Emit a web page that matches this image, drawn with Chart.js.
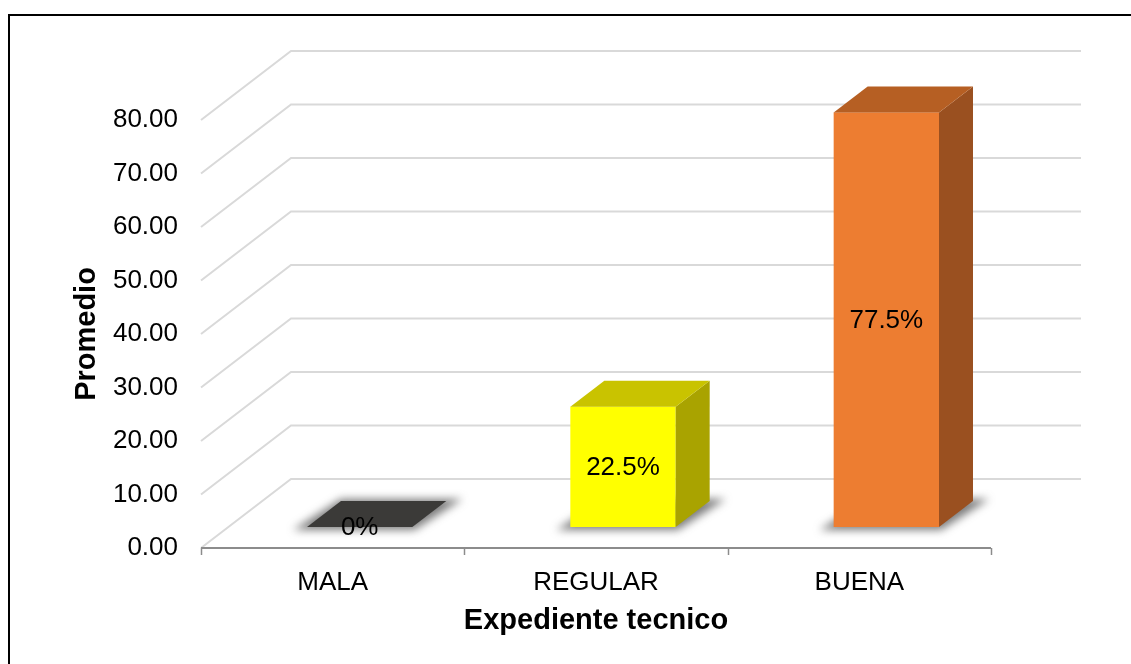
<!DOCTYPE html>
<html>
<head>
<meta charset="utf-8">
<script src="https://cdn.jsdelivr.net/npm/chart.js@4.4.1/dist/chart.umd.min.js"></script>
<style>
  html, body { margin: 0; padding: 0; background: #fff; }
  canvas { display: block; }
</style>
</head>
<body>
<canvas id="grafikResult" width="1131" height="664"></canvas>
<script>
var categorias = ['MALA', 'REGULAR', 'BUENA'];
var promedios = [0, 22.5, 77.5];
var etiquetas = ['0%', '22.5%', '77.5%'];
var yTicks = [0, 10, 20, 30, 40, 50, 60, 70, 80];

var colorFrente = ['#404040', '#ffff00', '#ed7d31'];
var colorTapa = ['#3b3a38', '#c9c300', '#b65f23'];
var colorLado = ['#2b2b2b', '#a9a300', '#9a5020'];

var FONT = "'Liberation Sans', Arial, sans-serif";

// profundidad de la pared (excel 3d)
var pared = { dx: 90, dy: 69 };
var barraIni = { dx: 27, dy: 21 };   // frente de la barra
var barraProf = { dx: 34, dy: 26 };  // fondo de la barra

var grafico3d = {
    id: 'grafico3d',
    beforeDraw: function(chart) {
        var ctx = chart.ctx;
        ctx.save();
        ctx.strokeStyle = '#000';
        ctx.lineWidth = 2;
        ctx.beginPath();
        ctx.moveTo(9, 664);
        ctx.lineTo(9, 15);
        ctx.lineTo(1131, 15);
        ctx.stroke();
        ctx.restore();
    },
    beforeDatasetsDraw: function(chart) {
        var ctx = chart.ctx;
        var a = chart.chartArea;
        var y = chart.scales.y;
        ctx.save();
        // lineas de la pared
        ctx.strokeStyle = '#d9d9d9';
        ctx.lineWidth = 2;
        y.ticks.forEach(function(t) {
            var py = y.getPixelForValue(t.value);
            ctx.beginPath();
            ctx.moveTo(a.left, py);
            ctx.lineTo(a.left + pared.dx, py - pared.dy);
            ctx.lineTo(a.right + pared.dx, py - pared.dy);
            ctx.stroke();
        });
        // eje horizontal
        ctx.strokeStyle = '#8c8c8c';
        ctx.lineWidth = 2;
        ctx.beginPath();
        ctx.moveTo(a.left, a.bottom);
        ctx.lineTo(a.right, a.bottom);
        ctx.stroke();
        ctx.lineWidth = 1.5;
        var w = (a.right - a.left) / categorias.length;
        for (var i = 0; i <= categorias.length; i++) {
            var tx = Math.round(a.left + i * w) + 0.5;
            ctx.beginPath();
            ctx.moveTo(tx, a.bottom);
            ctx.lineTo(tx, a.bottom + 7);
            ctx.stroke();
        }
        ctx.restore();
    },
    afterDatasetsDraw: function(chart) {
        var ctx = chart.ctx;
        var meta = chart.getDatasetMeta(0);
        meta.data.forEach(function(bar, i) {
            var x0 = bar.x - bar.width / 2 + barraIni.dx;
            var x1 = bar.x + bar.width / 2 + barraIni.dx;
            var yTop = bar.y - barraIni.dy;
            var yBot = bar.base - barraIni.dy;
            var dx = barraProf.dx, dy = barraProf.dy;

            // sombra
            ctx.save();
            ctx.filter = 'blur(4px)';
            ctx.fillStyle = 'rgba(70,70,70,0.7)';
            ctx.beginPath();
            ctx.moveTo(x0 - 14, yBot + 3);
            ctx.lineTo(x1 + 2, yBot + 3);
            ctx.lineTo(x1 + dx + 16, yBot - dy - 2);
            ctx.lineTo(x0 + dx, yBot - dy - 2);
            ctx.closePath();
            ctx.fill();
            ctx.restore();

            ctx.save();
            // frente
            ctx.fillStyle = colorFrente[i];
            ctx.fillRect(x0, yTop, x1 - x0, yBot - yTop);
            // lado
            ctx.fillStyle = colorLado[i];
            ctx.beginPath();
            ctx.moveTo(x1, yTop);
            ctx.lineTo(x1 + dx, yTop - dy);
            ctx.lineTo(x1 + dx, yBot - dy);
            ctx.lineTo(x1, yBot);
            ctx.closePath();
            ctx.fill();
            // tapa
            ctx.fillStyle = colorTapa[i];
            ctx.beginPath();
            ctx.moveTo(x0, yTop);
            ctx.lineTo(x1, yTop);
            ctx.lineTo(x1 + dx, yTop - dy);
            ctx.lineTo(x0 + dx, yTop - dy);
            ctx.closePath();
            ctx.fill();

            // etiqueta
            ctx.fillStyle = '#000';
            ctx.font = '26px ' + FONT;
            ctx.textAlign = 'center';
            ctx.textBaseline = 'middle';
            ctx.fillText(etiquetas[i], (x0 + x1) / 2, (yTop + yBot) / 2 + 1);
            ctx.restore();
        });
    }
};

var ctx = document.getElementById('grafikResult');

var myBarChart = new Chart(ctx, {
    type: 'bar',
    data: {
        labels: categorias,
        datasets: [
            {
                label: 'Promedio',
                data: promedios,
                backgroundColor: 'rgba(0,0,0,0)',
                borderWidth: 0,
                categoryPercentage: 1,
                barPercentage: 0.4
            }
        ]
    },
    options: {
        responsive: false,
        animation: false,
        layout: {
            padding: { top: 120, right: 140, left: 0, bottom: 0 }
        },
        plugins: {
            legend: { display: false },
            tooltip: { enabled: false }
        },
        scales: {
            x: {
                grid: { display: false, drawTicks: false },
                border: { display: false },
                ticks: {
                    color: '#000',
                    padding: 19,
                    font: { family: FONT, size: 26 }
                },
                title: {
                    display: true,
                    text: 'Expediente tecnico',
                    color: '#000',
                    padding: { top: 0, bottom: 26 },
                    font: { family: FONT, size: 29, weight: 'bold' }
                },
                afterFit: function(scale) { scale.height = 116; }
            },
            y: {
                min: yTicks[0],
                max: yTicks[yTicks.length - 1],
                grid: { display: false, drawTicks: false },
                border: { display: false },
                afterBuildTicks: function(scale) {
                    scale.ticks = yTicks.map(function(v) { return { value: v }; });
                },
                ticks: {
                    color: '#000',
                    padding: 23,
                    font: { family: FONT, size: 26 },
                    callback: function(v) { return Number(v).toFixed(2); }
                },
                title: {
                    display: true,
                    text: 'Promedio',
                    color: '#000',
                    padding: { top: 70, bottom: 0 },
                    font: { family: FONT, size: 29, weight: 'bold' }
                },
                afterFit: function(scale) { scale.width = 201; }
            }
        }
    },
    plugins: [grafico3d]
});
</script>
</body>
</html>
